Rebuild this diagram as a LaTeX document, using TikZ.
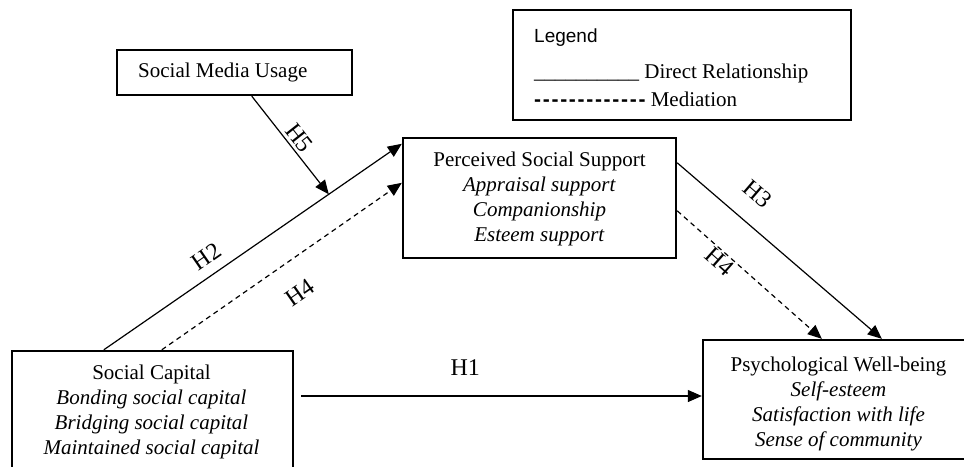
\documentclass[tikz,border=0pt]{standalone}
\usepackage{fontspec}
\setmainfont{Liberation Serif}
\newfontfamily\arialf{Liberation Sans}
\usetikzlibrary{arrows.meta,calc}
\newcommand{\ldsh}{-\kern1.7pt}
\tikzset{
  box/.style={draw, line width=2.4pt, inner sep=0pt},
  txt/.style={align=center, font=\fontsize{21}{25}\selectfont, inner sep=0pt},
  arr/.style={line width=1.2pt, -{Triangle[length=14pt,width=12pt]}},
  darr/.style={arr, dash pattern=on 5pt off 4pt},
  hlab/.style={font=\fontsize{24}{26}\selectfont, sloped, inner sep=3pt},
}
\begin{document}
\begin{tikzpicture}[x=1pt,y=-1pt]
\useasboundingbox (0,0) rectangle (964,466);
\clip (0,0) rectangle (964,466);
% legend
\node[box, minimum width=338pt, minimum height=110pt] (legend) at (682,65) {};
\node[anchor=base west, inner sep=0pt, font=\arialf\fontsize{19}{22}\selectfont] (lgt) at (534,42) {Legend};
\node[anchor=base west, inner sep=0pt, font=\fontsize{21}{25}\selectfont] (lgd) at (534,78) {\_\_\_\_\_\_\_\_\_\_ Direct Relationship};
\node[anchor=base west, inner sep=0pt, font=\fontsize{21}{25}\selectfont] (lgm) at (534,106) {{\arialf\bfseries\ldsh\ldsh\ldsh\ldsh\ldsh\ldsh\ldsh\ldsh\ldsh\ldsh\ldsh\ldsh-} Mediation};
% boxes
\node[box, minimum width=235pt, minimum height=45pt] (smu) at (234.5,72.5) {};
\node[txt, anchor=west] (smut) at (138,72.5) {Social Media Usage};
\node[box, minimum width=273pt, minimum height=120pt] (pss) at (539.5,198) {};
\node[txt] (psst) at (539.5,199) {Perceived Social Support\\ \textit{Appraisal support}\\ \textit{Companionship}\\ \textit{Esteem support}};
\node[box, minimum width=281pt, minimum height=122pt] (sc) at (152.5,412) {};
\node[txt] (sct) at (151.5,412) {Social Capital\\ \textit{Bonding social capital}\\ \textit{Bridging social capital}\\ \textit{Maintained social capital}};
\node[box, minimum width=271pt, minimum height=119pt] (pwb) at (838.5,399.5) {};
\node[txt] (pwbt) at (838.5,404) {Psychological Well-being\\ \textit{Self-esteem}\\ \textit{Satisfaction with life}\\ \textit{Sense of community}};
% connectors
\coordinate (h1s) at (301,396);
\draw[arr] (h1s) -- (h1s -| pwb.west) node[hlab, pos=0.41, above=17pt] (l1) {H1};
\coordinate (h2s) at ($(sc.north west)+(93,0)$);
\coordinate (h2e) at ($(pss.north west)+(0,7)$);
\draw[arr] (h2s) -- (h2e) node[hlab, pos=0.38, above=7pt] (l2) {H2};
\coordinate (h4s) at ($(sc.north west)+(151,0)$);
\coordinate (h4e) at ($(pss.north west)+(0,46)$);
\draw[darr] (h4s) -- (h4e) node[hlab, pos=0.5, below=20pt] (l4a) {H4};
\coordinate (h5s) at ($(smu.south west)+(136,0)$);
\path (h2s) -- (h2e) coordinate[pos=0.755] (h5e);
\draw[arr] (h5s) -- (h5e) node[hlab, pos=0.5, above=0pt] (l5) {H5};
\coordinate (h3s) at ($(pss.north east)+(0,26)$);
\coordinate (h3e) at ($(pwb.north west)+(180,0)$);
\draw[arr] (h3s) -- (h3e) node[hlab, pos=0.3, above=17pt] (l3) {H3};
\coordinate (h4bs) at ($(pss.north east)+(0,74)$);
\coordinate (h4be) at ($(pwb.north west)+(120,0)$);
\draw[darr] (h4bs) -- (h4be) node[hlab, pos=0.34, below=-2pt] (l4b) {H4};
\end{tikzpicture}
\end{document}
